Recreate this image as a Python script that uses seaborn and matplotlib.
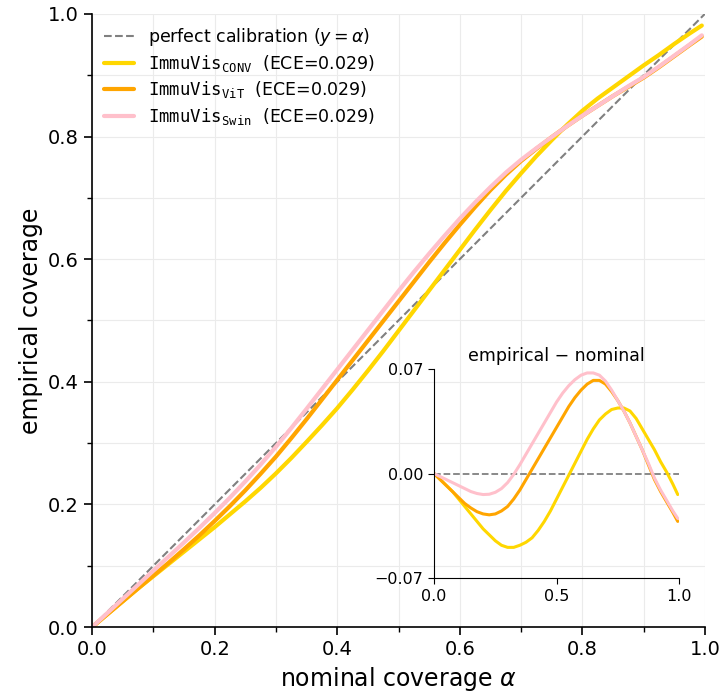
import numpy as np
import pandas as pd
import matplotlib
matplotlib.use("Agg")
import matplotlib.pyplot as plt
from matplotlib.ticker import MultipleLocator
import seaborn as sns

# nominal coverage levels
alpha = [0.000, 0.025, 0.050, 0.075, 0.100, 0.125, 0.150, 0.175, 0.200, 0.225,
         0.250, 0.275, 0.300, 0.325, 0.350, 0.375, 0.400, 0.425, 0.450, 0.475,
         0.500, 0.525, 0.550, 0.575, 0.600, 0.625, 0.650, 0.675, 0.700, 0.725,
         0.750, 0.775, 0.800, 0.825, 0.850, 0.875, 0.900, 0.925, 0.950, 0.975, 0.995]

# empirical - nominal
diff_conv = [0.000, -0.004, -0.008, -0.012, -0.017, -0.022, -0.027, -0.032, -0.037, -0.041,
             -0.045, -0.048, -0.0494, -0.0494, -0.048, -0.046, -0.043, -0.038, -0.032, -0.025,
             -0.017, -0.009, -0.001, 0.007, 0.015, 0.023, 0.030, 0.036, 0.040, 0.043,
             0.044, 0.044, 0.042, 0.037, 0.030, 0.023, 0.016, 0.008, 0.001, -0.007, -0.014]
diff_vit = [0.000, -0.004, -0.008, -0.012, -0.016, -0.020, -0.023, -0.0255, -0.027, -0.0276,
            -0.027, -0.025, -0.022, -0.017, -0.011, -0.004, 0.003, 0.010, 0.017, 0.024,
            0.031, 0.038, 0.045, 0.051, 0.056, 0.060, 0.0625, 0.0625, 0.060, 0.055,
            0.049, 0.042, 0.034, 0.025, 0.016, 0.006, -0.004, -0.012, -0.019, -0.026, -0.032]
diff_swin = [0.000, -0.002, -0.004, -0.006, -0.008, -0.010, -0.012, -0.0133, -0.014, -0.0138,
             -0.0125, -0.010, -0.006, -0.0005, 0.006, 0.013, 0.020, 0.027, 0.034, 0.041,
             0.048, 0.054, 0.059, 0.063, 0.066, 0.0675, 0.0675, 0.066, 0.062, 0.056,
             0.049, 0.042, 0.034, 0.025, 0.016, 0.007, -0.003, -0.011, -0.018, -0.025, -0.030]

models = ["CONV", "ViT", "Swin"]
ece = [0.029, 0.029, 0.029]
colors = ["#FFD700", "#FFA500", "#FFC0CB"]

sns.set_style("white")
plt.rcParams["font.family"] = ["DejaVu Sans"]
plt.rcParams["text.color"] = "black"
plt.rcParams["axes.labelcolor"] = "black"
plt.rcParams["xtick.color"] = "black"
plt.rcParams["ytick.color"] = "black"

rows = []
for m, d in zip(models, [diff_conv, diff_vit, diff_swin]):
    for a, v in zip(alpha, d):
        rows.append({"model": m, "alpha": a, "diff": v, "empirical": a + v})
df = pd.DataFrame(rows)

fig = plt.figure(figsize=(7.2, 6.94), dpi=100)
ax = fig.add_axes([0.128, 0.0965, 0.851, 0.8835])

# perfect calibration line
ax.plot([0, 1], [0, 1], ls="--", color="gray", lw=1.5, label=r"perfect calibration ($y=\alpha$)")
for m, c, e in zip(models, colors, ece):
    sub = df[df["model"] == m]
    sns.lineplot(data=sub, x="alpha", y="empirical", color=c, lw=3, ax=ax,
                 label=r"$\mathtt{ImmuVis}_{\mathtt{%s}}$  (ECE=%.3f)" % (m, e))

ax.set_xlim(0, 1)
ax.set_ylim(0, 1)
ax.xaxis.set_major_locator(MultipleLocator(0.2))
ax.yaxis.set_major_locator(MultipleLocator(0.2))
ax.xaxis.set_minor_locator(MultipleLocator(0.1))
ax.yaxis.set_minor_locator(MultipleLocator(0.1))
ax.tick_params(which="major", direction="out", length=6, width=1.2, labelsize=14, left=True, bottom=True)
ax.tick_params(which="minor", direction="out", length=3.5, width=1, left=True, bottom=True)
ax.grid(True, which="both", color="#ebebeb", lw=0.8)
for s in ["top", "right"]:
    ax.spines[s].set_visible(False)
for s in ["left", "bottom"]:
    ax.spines[s].set_color("black")
    ax.spines[s].set_linewidth(1.2)
ax.set_xlabel(r"nominal coverage $\alpha$", fontsize=17)
ax.set_ylabel("empirical coverage", fontsize=17)
ax.legend(loc="upper left", frameon=False, fontsize=12.5, handlelength=1.7,
          labelspacing=0.3, borderaxespad=0.3)

# inset: deviation from nominal
ins = fig.add_axes([0.603, 0.167, 0.340, 0.301])
ins.patch.set_alpha(0)
ins.axhline(0, ls="--", color="gray", lw=1.3)
for m, c in zip(models, colors):
    sub = df[df["model"] == m]
    sns.lineplot(data=sub, x="alpha", y="diff", color=c, lw=2.2, ax=ins)
ins.set_xlim(0, 1)
ins.set_ylim(-0.07, 0.07)
ins.set_xticks([0.0, 0.5, 1.0])
ins.set_yticks([-0.07, 0.0, 0.07])
ins.set_yticklabels(["−0.07", "0.00", "0.07"])
ins.tick_params(direction="out", length=4.5, labelsize=11.5, left=True, bottom=True)
ins.set_xlabel("")
ins.set_ylabel("")
ins.set_title("empirical − nominal", fontsize=12.5)
for s in ["top", "right"]:
    ins.spines[s].set_visible(False)
for s in ["left", "bottom"]:
    ins.spines[s].set_color("black")

fig.savefig("out.png", dpi=100)
